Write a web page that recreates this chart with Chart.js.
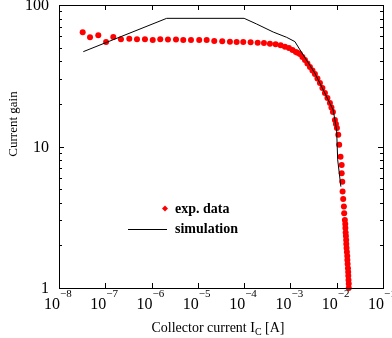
<!DOCTYPE html>
<html>
<head>
<meta charset="utf-8">
<script src="https://cdn.jsdelivr.net/npm/chart.js@4"></script>
<style>
  html, body { margin: 0; padding: 0; background: #fff; }
  #wrap { width: 392px; height: 338px; }
</style>
</head>
<body>
<div id="wrap"><canvas id="gainChart" width="392" height="338"></canvas></div>
<script>
// measured current gain vs collector current
const expCurrent = [
  3.25e-8, 4.68e-8, 7.06e-8, 1.04e-7, 1.49e-7, 2.18e-7, 3.30e-7, 4.84e-7, 7.2e-7,
  1.06e-6, 1.54e-6, 2.26e-6, 3.37e-6, 4.84e-6, 7.1e-6, 1.07e-5, 1.55e-5, 2.26e-5,
  3.36e-5, 4.93e-5, 6.89e-5, 9.57e-5, 1.38e-4, 1.96e-4, 2.68e-4, 3.61e-4, 4.79e-4,
  6.14e-4, 7.6e-4, 9.29e-4, 1.11e-3, 1.31e-3, 1.42e-3, 1.60e-3, 1.82e-3, 2.06e-3,
  2.33e-3, 2.64e-3, 2.99e-3, 3.38e-3, 3.83e-3, 4.34e-3, 4.91e-3, 5.56e-3, 6.30e-3,
  7.13e-3, 7.69e-3, 8.28e-3, 9.14e-3, 9.62e-3, 1.01e-2, 1.08e-2, 1.13e-2, 1.21e-2,
  1.28e-2, 1.28e-2, 1.32e-2, 1.34e-2, 1.38e-2, 1.43e-2, 1.45e-2, 1.50e-2, 1.53e-2,
  1.54e-2, 1.56e-2, 1.58e-2, 1.60e-2, 1.61e-2, 1.63e-2, 1.66e-2, 1.69e-2, 1.70e-2,
  1.72e-2, 1.75e-2, 1.77e-2, 1.78e-2, 1.80e-2, 1.82e-2, 1.82e-2
];
const expGain = [
  64.1, 59.1, 61.1, 54.8, 59.4, 57.3, 57.8, 57.3, 57.3,
  56.6, 57.3, 57.0, 57.0, 56.6, 56.6, 56.6, 56.5, 55.7,
  55.5, 55.1, 54.8, 54.8, 54.5, 54.2, 53.9, 53.3, 52.7,
  51.9, 50.7, 49.7, 48.1, 46.6, 46.0, 45.1, 42.9, 40.8,
  38.6, 36.5, 34.4, 32.5, 30.3, 28.1, 25.9, 23.9, 22.0,
  20.3, 18.9, 17.5, 15.4, 14.4, 13.5, 12.1, 10.3, 8.48,
  7.40, 6.47, 5.64, 4.80, 4.26, 3.76, 3.38, 3.03, 2.83,
  2.65, 2.47, 2.33, 2.18, 2.05, 1.92, 1.80, 1.68, 1.58,
  1.48, 1.38, 1.30, 1.22, 1.14, 1.07, 1.0
];

const simCurrent = [
  3.35e-8, 2.12e-6, 1.0e-4, 1.86e-4, 4.25e-4, 8.28e-4, 1.25e-3, 1.89e-3,
  3.38e-3, 5.56e-3, 8.39e-3, 9.95e-3, 1.05e-2, 1.23e-2
];
const simGain = [
  46.8, 80.5, 80.5, 73.4, 64.4, 59.1, 55.1, 44.3,
  32.9, 23.8, 18.1, 13.1, 8.04, 5.2
];

const xTickExps = [-8, -7, -6, -5, -4, -3, -2, -1];
const yTickValues = [1, 10, 100];
const yTickLabels = ['1', '10', '100'];
const legendLabels = ['exp. data', 'simulation'];

const SERIF = '"Liberation Serif", "DejaVu Serif", serif';
const RED = '#ff0000';

// frame, inward ticks, labels, titles and the in-plot legend
const decorPlugin = {
  id: 'decor',
  afterDraw(chart) {
    const { ctx, chartArea: a, scales } = chart;
    const xs = scales.x;
    const ys = scales.y;
    ctx.save();
    ctx.strokeStyle = '#000';
    ctx.lineWidth = 1;
    ctx.strokeRect(Math.round(a.left) + 0.5, Math.round(a.top) + 0.5,
      Math.round(a.right - a.left), Math.round(a.bottom - a.top));

    ctx.beginPath();
    xTickExps.forEach(e => {
      const px = Math.round(xs.getPixelForValue(Math.pow(10, e))) + 0.5;
      ctx.moveTo(px, a.bottom); ctx.lineTo(px, a.bottom - 5);
      ctx.moveTo(px, a.top); ctx.lineTo(px, a.top + 5);
    });
    for (let d = 1; d <= 100; d *= 10) {
      for (let m = 1; m <= 9; m++) {
        const v = d * m;
        if (v > 100) break;
        const len = m === 1 ? 5 : 3;
        const py = Math.round(ys.getPixelForValue(v)) + 0.5;
        ctx.moveTo(a.left, py); ctx.lineTo(a.left + len, py);
        ctx.moveTo(a.right, py); ctx.lineTo(a.right - len, py);
      }
    }
    ctx.stroke();

    ctx.fillStyle = '#000';
    // x tick labels: 10 with superscript exponent
    xTickExps.forEach(e => {
      const px = xs.getPixelForValue(Math.pow(10, e));
      ctx.font = '16px ' + SERIF;
      ctx.textAlign = 'right';
      ctx.textBaseline = 'alphabetic';
      ctx.fillText('10', px + 1, 309);
      ctx.font = '11px ' + SERIF;
      ctx.textAlign = 'left';
      ctx.fillText('\u2212' + Math.abs(e), px + 1, 297);
    });
    // y tick labels
    ctx.font = '16px ' + SERIF;
    ctx.textAlign = 'right';
    ctx.textBaseline = 'middle';
    yTickValues.forEach((v, i) => {
      ctx.fillText(yTickLabels[i], 49, ys.getPixelForValue(v) + 1);
    });

    // x title with subscript
    ctx.textBaseline = 'alphabetic';
    ctx.textAlign = 'left';
    const main1 = 'Collector current I';
    const sub = 'C';
    const main2 = ' [A]';
    ctx.font = '14px ' + SERIF;
    const w1 = ctx.measureText(main1).width;
    const w3 = ctx.measureText(main2).width;
    ctx.font = '10px ' + SERIF;
    const w2 = ctx.measureText(sub).width;
    let tx = 218 - (w1 + w2 + w3) / 2;
    ctx.font = '14px ' + SERIF;
    ctx.fillText(main1, tx, 332);
    ctx.font = '10px ' + SERIF;
    ctx.fillText(sub, tx + w1, 335);
    ctx.font = '14px ' + SERIF;
    ctx.fillText(main2, tx + w1 + w2, 332);

    // y title
    ctx.save();
    ctx.translate(14, 124);
    ctx.rotate(-Math.PI / 2);
    ctx.textAlign = 'center';
    ctx.textBaseline = 'middle';
    ctx.font = '13px ' + SERIF;
    ctx.fillText('Current gain', 0, 0);
    ctx.restore();

    // legend
    ctx.fillStyle = RED;
    ctx.beginPath();
    ctx.moveTo(165, 205.5); ctx.lineTo(168, 208.5); ctx.lineTo(165, 211.5); ctx.lineTo(162, 208.5);
    ctx.closePath();
    ctx.fill();
    ctx.strokeStyle = '#000';
    ctx.beginPath();
    ctx.moveTo(128, 229.5); ctx.lineTo(167, 229.5);
    ctx.stroke();
    ctx.fillStyle = '#000';
    ctx.font = 'bold 14px ' + SERIF;
    ctx.textAlign = 'left';
    ctx.textBaseline = 'middle';
    ctx.fillText(legendLabels[0], 175, 209);
    ctx.fillText(legendLabels[1], 175, 229);
    ctx.restore();
  }
};

new Chart(document.getElementById('gainChart'), {
  type: 'scatter',
  data: {
    datasets: [
      {
        label: legendLabels[1],
        data: simCurrent.map((c, i) => ({ x: c, y: simGain[i] })),
        showLine: true,
        borderColor: '#000',
        borderWidth: 1,
        pointRadius: 0,
        tension: 0
      },
      {
        label: legendLabels[0],
        data: expCurrent.map((c, i) => ({ x: c, y: expGain[i] })),
        showLine: false,
        backgroundColor: RED,
        borderWidth: 0,
        pointStyle: 'circle',
        pointRadius: 3,
        clip: false
      }
    ]
  },
  options: {
    responsive: false,
    animation: false,
    devicePixelRatio: 1,
    layout: { padding: { left: 0, right: 9, top: 5, bottom: 0 } },
    plugins: { legend: { display: false }, tooltip: { enabled: false } },
    scales: {
      x: {
        type: 'logarithmic',
        min: 1e-8,
        max: 1e-1,
        grid: { display: false },
        border: { display: false },
        ticks: { display: false },
        afterFit(scale) { scale.height = 50; }
      },
      y: {
        type: 'logarithmic',
        min: 1,
        max: 100,
        grid: { display: false },
        border: { display: false },
        ticks: { display: false },
        afterFit(scale) { scale.width = 59; }
      }
    }
  },
  plugins: [decorPlugin]
});
</script>
</body>
</html>
